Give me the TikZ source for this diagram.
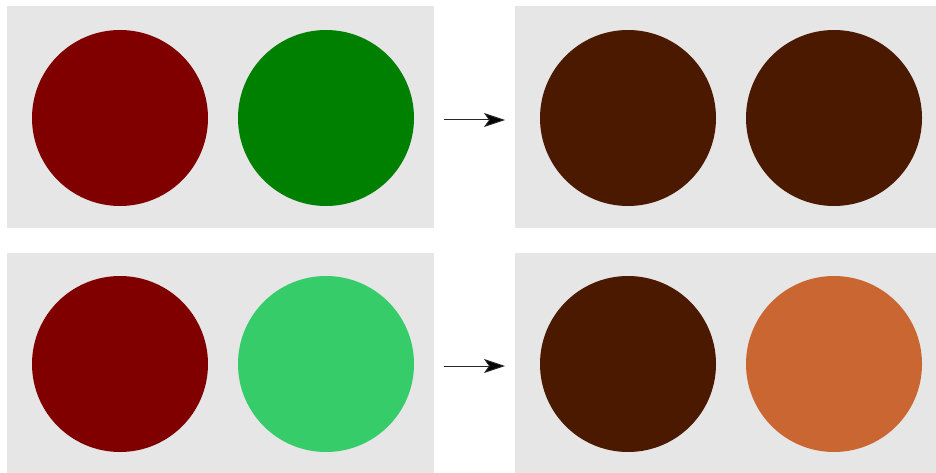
\documentclass[tikz,border=0pt]{standalone}
\usetikzlibrary{arrows.meta}
\definecolor{panelgrey}{RGB}{230,230,230}
\definecolor{darkred}{RGB}{128,0,0}
\definecolor{pgreen}{RGB}{0,128,0}
\definecolor{lgreen}{RGB}{54,204,106}
\definecolor{brownc}{RGB}{75,24,0}
\definecolor{orangec}{RGB}{201,102,50}
\begin{document}
\begin{tikzpicture}[x=1pt,y=-1pt,
  panel/.style={fill=panelgrey,draw=none},
  disc/.style={circle,draw=none,minimum size=176pt,inner sep=0pt},
  conn/.style={draw=black!85,line width=1pt,-{Stealth[length=21pt,width=14pt,inset=5pt,fill=black]}}]
\useasboundingbox (0,0) rectangle (936,473);
\fill[white] (0,0) rectangle (936,473);
\fill[panel] (7,6) rectangle (434,228);
\fill[panel] (515,6) rectangle (936,228);
\fill[panel] (7,253) rectangle (434,473);
\fill[panel] (515,253) rectangle (936,473);
\node[disc,fill=darkred] (a1) at (120,118) {};
\node[disc,fill=pgreen] (a2) at (326,118) {};
\node[disc,fill=brownc] (b1) at (628,118) {};
\node[disc,fill=brownc] (b2) at (834,118) {};
\node[disc,fill=darkred] (c1) at (120,364) {};
\node[disc,fill=lgreen] (c2) at (326,364) {};
\node[disc,fill=brownc] (d1) at (628,364) {};
\node[disc,fill=orangec] (d2) at (834,364) {};
\coordinate (s1) at (444,120);
\coordinate (e1) at (505,120);
\coordinate (s2) at (444,366);
\coordinate (e2) at (505,366);
\draw[conn] (s1) -- (e1);
\draw[conn] (s2) -- (e2);
\end{tikzpicture}
\end{document}
